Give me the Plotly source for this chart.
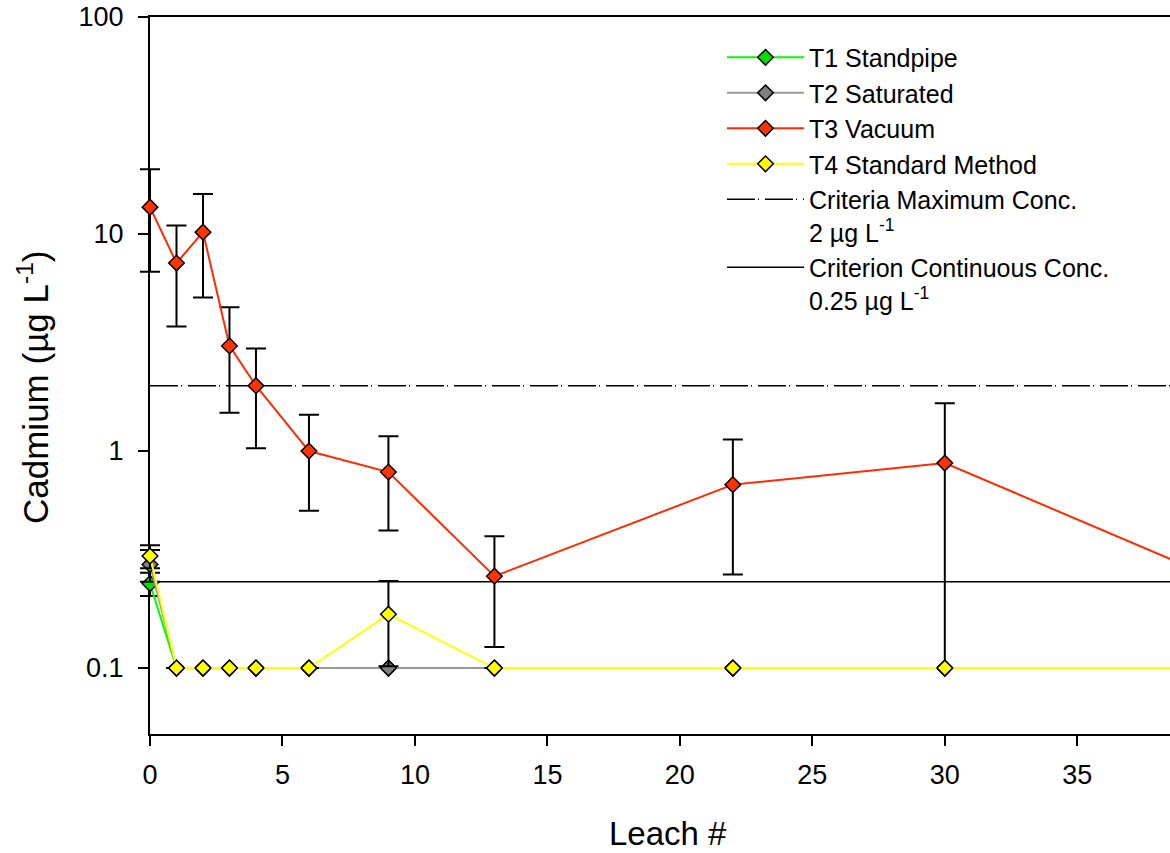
import plotly.graph_objects as go

# ---- data ----
leach = [0, 1, 2, 3, 4, 6, 9, 13, 22, 30, 39]

t1_standpipe = [0.245, 0.1, 0.1, 0.1, 0.1, 0.1, 0.1, 0.1, 0.1, 0.1, 0.1]
t1_err = [0.03, 0, 0, 0, 0, 0, 0, 0, 0, 0, 0]

t2_saturated = [0.30, 0.1, 0.1, 0.1, 0.1, 0.1, 0.1, 0.1, 0.1, 0.1, 0.1]
t2_err = [0.05, 0, 0, 0, 0, 0, 0, 0, 0, 0, 0]

t3_vacuum = [13.3, 7.35, 10.2, 3.05, 2.0, 1.0, 0.80, 0.265, 0.70, 0.88, 0.30]
t3_err = [6.6, 3.6, 5.1, 1.55, 0.97, 0.47, 0.37, 0.14, 0.43, 0.78, 0.20]

t4_standard = [0.328, 0.1, 0.1, 0.1, 0.1, 0.1, 0.177, 0.1, 0.1, 0.1, 0.1]
t4_err = [0.04, 0, 0, 0, 0, 0, 0.075, 0, 0, 0, 0]

criteria_max = 2.0
criterion_cont = 0.25
criteria_x = [0, 40]

y_tickvals = [0.1, 1, 10, 100]
y_ticktext = ["0.1", "1", "10", "100"]
x_tickvals = [0, 5, 10, 15, 20, 25, 30, 35]

FONT = "Liberation Sans, Arial, sans-serif"

# layout geometry (pixels)
W, H = 1170, 853
M_L, M_R, M_T, M_B = 120, 0, 17, 119
AXIS_LEFT = 150                      # pixel where x = 0 sits
X_MAX = 38.5
Y_RANGE = [-1.304, 2.0]
plot_w = W - M_L - M_R
px_per_unit = (W - M_R - AXIS_LEFT) / X_MAX
x2_min = -(AXIS_LEFT - M_L) / px_per_unit
plot_h = H - M_T - M_B

fig = go.Figure()

# criteria lines (drawn underneath, listed last in legend)
fig.add_trace(go.Scatter(
    x=criteria_x, y=[criteria_max] * len(criteria_x), mode="lines",
    name="Criteria Maximum Conc.<br>2 µg L<sup>-1</sup>",
    line=dict(color="black", width=1.5, dash="28px,3px,1px,6px"),
    legendrank=1005, hoverinfo="skip", xaxis="x", yaxis="y"))
fig.add_trace(go.Scatter(
    x=criteria_x, y=[criterion_cont] * len(criteria_x), mode="lines",
    name="Criterion Continuous Conc.<br>0.25 µg L<sup>-1</sup>",
    line=dict(color="black", width=1.5),
    legendrank=1006, hoverinfo="skip", xaxis="x", yaxis="y"))

series = [
    ("T1 Standpipe", t1_standpipe, t1_err, "#00ff00", "#00e000"),
    ("T2 Saturated", t2_saturated, t2_err, "#999999", "#808080"),
    ("T3 Vacuum", t3_vacuum, t3_err, "#ff2a00", "#ff3300"),
    ("T4 Standard Method", t4_standard, t4_err, "#ffff00", "#ffff00"),
]
for i, (name, vals, errs, lc, mc) in enumerate(series):
    fig.add_trace(go.Scatter(
        x=leach, y=vals, mode="lines+markers", name=name,
        line=dict(color=lc, width=2),
        marker=dict(symbol="diamond", size=12, color=mc,
                    line=dict(color="black", width=1.5)),
        error_y=dict(type="data", array=errs, visible=True,
                     color="black", thickness=2, width=10),
        cliponaxis=False, xaxis="x2", yaxis="y2",
        legendrank=1001 + i))

axis_common = dict(showline=True, linecolor="black", linewidth=2,
                   ticks="outside", ticklen=10, tickwidth=2,
                   tickcolor="black", showgrid=False, zeroline=False,
                   tickfont=dict(family=FONT, size=27))

fig.update_layout(
    width=W, height=H,
    margin=dict(l=M_L, r=M_R, t=M_T, b=M_B),
    paper_bgcolor="white", plot_bgcolor="rgba(0,0,0,0)",
    font=dict(family=FONT, color="black", size=26),
    showlegend=True,
    legend=dict(x=(722 - M_L) / plot_w, y=0.9755, xanchor="left",
                yanchor="top", bgcolor="rgba(0,0,0,0)", borderwidth=0,
                font=dict(family=FONT, size=25, color="black"),
                itemwidth=77, valign="top", tracegroupgap=0),
    xaxis=dict(domain=[(AXIS_LEFT - M_L) / plot_w, 1], range=[0, X_MAX],
               tickvals=x_tickvals, mirror=True, anchor="y",
               ticklabelstandoff=6, **axis_common),
    yaxis=dict(type="log", range=Y_RANGE, domain=[0, 1], anchor="x",
               tickvals=y_tickvals, ticktext=y_ticktext, mirror=False,
               ticklabelstandoff=9, **axis_common),
    xaxis2=dict(domain=[0, 1], range=[x2_min, X_MAX], visible=False,
                anchor="y2", showgrid=False, zeroline=False),
    yaxis2=dict(type="log", domain=[0, 1], range=Y_RANGE, visible=False,
                anchor="x2", showgrid=False, zeroline=False),
    annotations=[
        dict(text="Cadmium (µg L<sup>-1</sup>)", textangle=-90,
             xref="paper", yref="paper", x=(33 - M_L) / plot_w,
             y=(H - M_B - 388) / plot_h, xanchor="center",
             yanchor="middle", showarrow=False,
             font=dict(family=FONT, size=35)),
        dict(text="Leach #", xref="paper", yref="paper",
             x=(668 - M_L) / plot_w, y=(H - M_B - 833) / plot_h,
             xanchor="center", yanchor="middle", showarrow=False,
             font=dict(family=FONT, size=33)),
    ],
)

fig.write_html("out.html")
